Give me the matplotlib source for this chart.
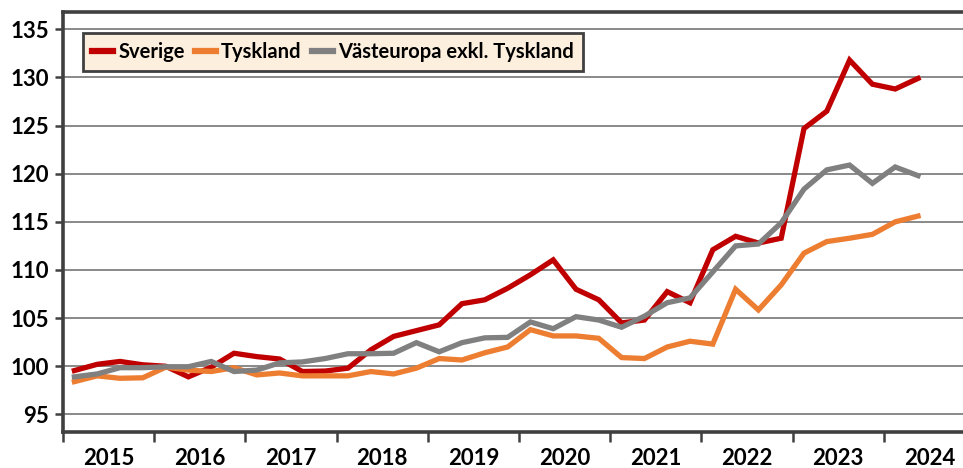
import numpy as np
import matplotlib
matplotlib.use("Agg")
import matplotlib.pyplot as plt

# quarterly index values, 2015Q1 .. 2024Q2
years = [2015, 2016, 2017, 2018, 2019, 2020, 2021, 2022, 2023, 2024]
sverige = [99.55, 100.2, 100.5, 100.15, 100.0, 98.9, 99.9, 101.35,
           101.0, 100.75, 99.45, 99.5, 99.8, 101.7, 103.1, 103.7,
           104.3, 106.5, 106.9, 108.1, 109.5, 111.05, 108.0, 106.9,
           104.5, 104.8, 107.75, 106.6, 112.1, 113.5, 112.8, 113.3,
           124.7, 126.5, 131.8, 129.3, 128.8, 129.9]
tyskland = [98.4, 99.0, 98.75, 98.8, 99.9, 99.6, 99.45, 99.85,
            99.1, 99.3, 99.0, 99.0, 99.0, 99.45, 99.2, 99.8,
            100.8, 100.65, 101.4, 102.0, 103.8, 103.15, 103.15, 102.9,
            100.9, 100.8, 102.0, 102.6, 102.3, 108.0, 105.85, 108.45,
            111.75, 112.95, 113.3, 113.7, 115.0, 115.6]
vasteuropa = [98.9, 99.2, 99.85, 99.85, 99.95, 99.95, 100.5, 99.45,
              99.6, 100.35, 100.45, 100.8, 101.3, 101.3, 101.35, 102.45,
              101.5, 102.45, 102.95, 103.0, 104.6, 103.9, 105.15, 104.8,
              104.05, 105.2, 106.6, 107.1, 109.8, 112.5, 112.7, 114.9,
              118.4, 120.4, 120.9, 119.0, 120.7, 119.8]
labels = ["Sverige", "Tyskland", "Västeuropa exkl. Tyskland"]
colors = ["#C00000", "#ED7D31", "#808080"]

fig = plt.figure(figsize=(9.63, 4.68), dpi=100)
ax = fig.add_axes([63 / 963, 36.3 / 468, 912 / 963, 419.7 / 468])

x = np.arange(len(sverige)) + 0.5
for vals, lab, c in zip([sverige, tyskland, vasteuropa], labels, colors):
    ax.plot(x, vals, color=c, lw=3.8, label=lab, solid_joinstyle="miter")

ax.set_xlim(0, 4 * len(years))
ax.set_ylim(93.2, 136.8)
ax.set_yticks(np.arange(95, 136, 5))
ax.yaxis.grid(True, color="#808080", lw=1.3)
ax.set_axisbelow(True)

ax.set_xticks(np.arange(0, 4 * len(years) + 1, 4))
ax.set_xticklabels([])
ax.set_xticks(np.arange(2, 4 * len(years), 4), minor=True)
ax.set_xticklabels([str(y) for y in years], minor=True)
ax.tick_params(axis="x", which="minor", length=0, pad=12)
ax.tick_params(axis="x", which="major", length=7, width=1.8, color="#404040")
ax.tick_params(axis="y", length=6, width=1.8, color="#404040", pad=4)

for lbl in ax.get_yticklabels() + ax.get_xticklabels(minor=True):
    lbl.set_fontsize(16)
    lbl.set_fontweight("bold")
    lbl.set_family("Lato")

for side in ["left", "bottom", "top"]:
    ax.spines[side].set_color("#404040")
    ax.spines[side].set_linewidth(2.6)
ax.spines["right"].set_visible(False)

leg = ax.legend(loc="upper left", bbox_to_anchor=(20 / 912, 1 - 21 / 419.7),
                ncol=3, fancybox=False, framealpha=1, borderaxespad=0,
                handlelength=1.05, handletextpad=0.25, columnspacing=0.5,
                borderpad=0.45, prop={"family": "Lato", "weight": "bold", "size": 14.5})
leg.get_frame().set_facecolor("#FDEFDD")
leg.get_frame().set_edgecolor("#404040")
leg.get_frame().set_linewidth(2)
for h in leg.get_lines():
    h.set_linewidth(4.5)

fig.savefig("out.png", dpi=100)
